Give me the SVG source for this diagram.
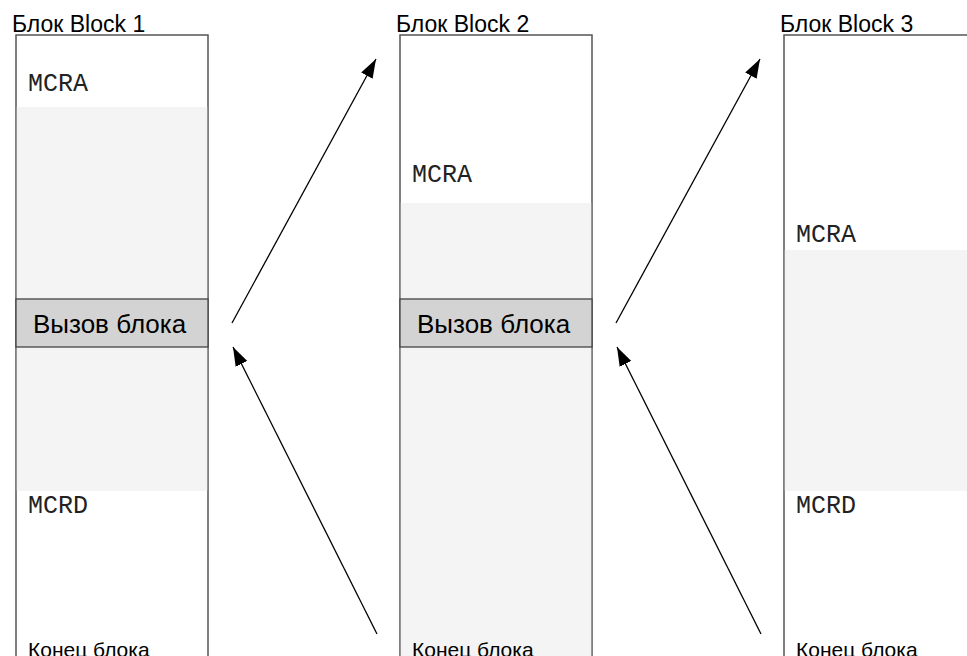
<svg xmlns="http://www.w3.org/2000/svg" width="967" height="656" viewBox="0 0 967 656">
  <style>
    .frame { fill: #ffffff; stroke: #555555; stroke-width: 1.5; }
    .shade { fill: #f4f4f4; stroke: none; }
    .call { fill: #d3d3d3; stroke: #444444; stroke-width: 1.3; }
    .title { font-family: "Liberation Sans", Arial, sans-serif; font-size: 23px; fill: #000000; }
    .callText { font-family: "Liberation Sans", Arial, sans-serif; font-size: 26px; fill: #000000; }
    .end { font-family: "Liberation Sans", Arial, sans-serif; font-size: 21px; fill: #000000; }
    .code { font-family: "Liberation Mono", "Courier New", monospace; font-size: 25px; fill: #222222; }
    .edge { stroke: #000000; stroke-width: 1.3; fill: none; marker-end: url(#head); }
  </style>
  <defs>
    <marker id="head" markerUnits="userSpaceOnUse" markerWidth="20" markerHeight="14" refX="19" refY="6.5" orient="auto">
      <path d="M0,0 L19,6.5 L0,13 Z" fill="#000000"/>
    </marker>
  </defs>

  <rect width="967" height="656" fill="#ffffff"/>

  <!-- Block 1 -->
  <g id="block1">
    <rect class="frame" x="16" y="35" width="192" height="640"/>
    <rect class="shade" x="16.8" y="107" width="190.4" height="384"/>
    <rect class="call" x="16" y="299" width="192" height="48"/>
    <text class="title" x="12" y="32">Блок Block 1</text>
    <text class="code" x="28" y="91">MCRA</text>
    <text class="callText" x="33" y="333">Вызов блока</text>
    <text class="code" x="28" y="513">MCRD</text>
    <text class="end" x="28" y="657">Конец блока</text>
  </g>

  <!-- Block 2 -->
  <g id="block2">
    <rect class="frame" x="400" y="35" width="192" height="640"/>
    <rect class="shade" x="400.8" y="203" width="190.4" height="460"/>
    <rect class="call" x="400" y="299" width="192" height="48"/>
    <text class="title" x="396" y="32">Блок Block 2</text>
    <text class="code" x="412" y="182">MCRA</text>
    <text class="callText" x="417" y="333">Вызов блока</text>
    <text class="end" x="412" y="657">Конец блока</text>
  </g>

  <!-- Block 3 -->
  <g id="block3">
    <rect class="frame" x="784" y="35" width="220" height="640"/>
    <rect class="shade" x="784.8" y="250" width="200" height="241"/>
    <text class="title" x="780" y="32">Блок Block 3</text>
    <text class="code" x="796" y="242">MCRA</text>
    <text class="code" x="796" y="513">MCRD</text>
    <text class="end" x="796" y="657">Конец блока</text>
  </g>

  <!-- Calls and returns -->
  <g id="connectors">
    <line class="edge" x1="232" y1="323" x2="376" y2="59"/>
    <line class="edge" x1="377" y1="634" x2="233" y2="347"/>
    <line class="edge" x1="616" y1="323" x2="760" y2="59"/>
    <line class="edge" x1="761" y1="634" x2="617" y2="347"/>
  </g>
</svg>
